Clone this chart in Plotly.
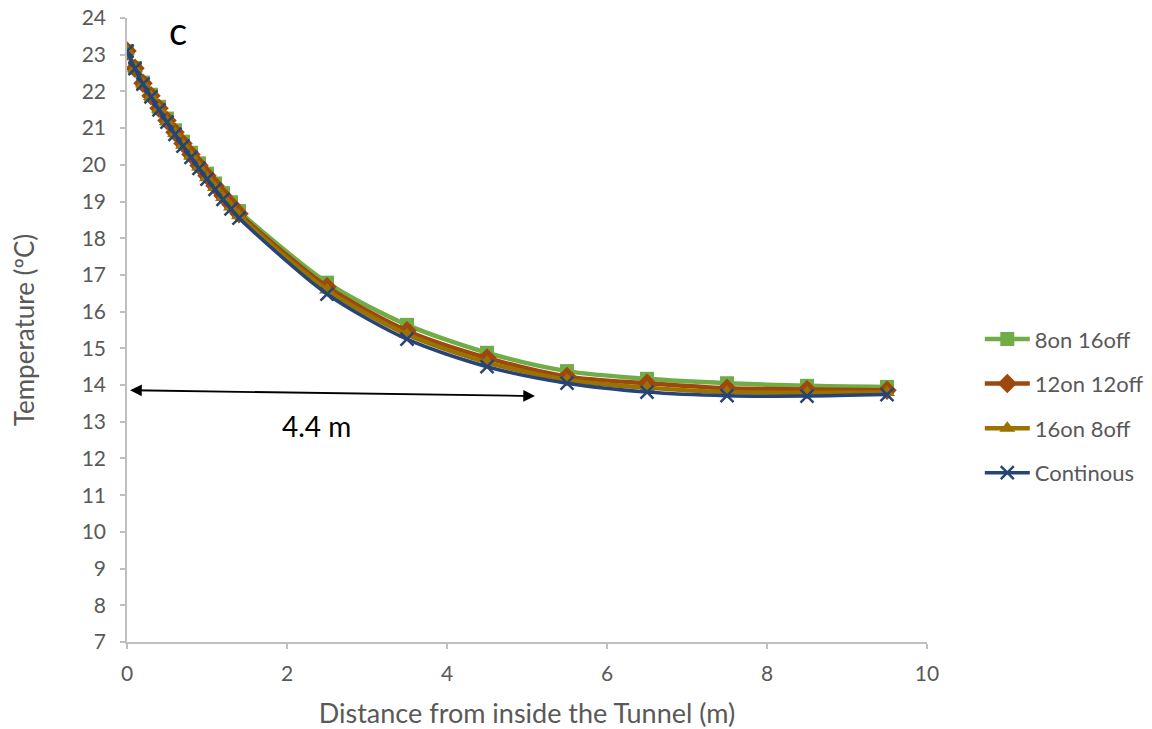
import plotly.graph_objects as go

# Distance from the inside of the tunnel (m)
distance = [0.0, 0.1, 0.2, 0.3, 0.4, 0.5, 0.6, 0.7, 0.8, 0.9, 1.0, 1.1, 1.2, 1.3, 1.4,
            2.5, 3.5, 4.5, 5.5, 6.5, 7.5, 8.5, 9.5]

# Temperature (ºC) for each heating schedule
temp_8on_16off = [23.10, 22.64, 22.24, 21.91, 21.58, 21.26, 20.94, 20.63, 20.33, 20.04,
                  19.76, 19.49, 19.23, 18.98, 18.74,
                  16.79, 15.64, 14.88, 14.38, 14.17, 14.05, 13.98, 13.95]
temp_12on_12off = [23.10, 22.63, 22.22, 21.88, 21.54, 21.21, 20.89, 20.58, 20.28, 19.98,
                   19.70, 19.43, 19.16, 18.91, 18.67,
                   16.68, 15.48, 14.74, 14.23, 14.05, 13.91, 13.88, 13.86]
temp_16on_8off = [23.10, 22.62, 22.21, 21.86, 21.52, 21.18, 20.86, 20.54, 20.24, 19.94,
                  19.65, 19.38, 19.11, 18.85, 18.61,
                  16.59, 15.38, 14.62, 14.14, 13.93, 13.81, 13.79, 13.80]
temp_continuous = [23.10, 22.62, 22.20, 21.85, 21.50, 21.16, 20.83, 20.51, 20.20, 19.90,
                   19.61, 19.33, 19.06, 18.80, 18.55,
                   16.48, 15.25, 14.50, 14.05, 13.81, 13.71, 13.70, 13.74]

series_names = ["8on 16off", "12on 12off", "16on 8off", "Continous"]

FONT = "Lato, 'Open Sans', sans-serif"
GREY_TEXT = "#595959"
AXIS_GREY = "#BFBFBF"

styles = [
    dict(color="#70AD47", symbol="square", size=14, width=4.5),
    dict(color="#9E480E", symbol="diamond", size=15, width=4.5),
    dict(color="#997300", symbol="triangle-up", size=14, width=4.5),
    dict(color="#264478", symbol="x-thin", size=13, width=3.5),
]
values = [temp_8on_16off, temp_12on_12off, temp_16on_8off, temp_continuous]

fig = go.Figure()
for i, (name, ys, st) in enumerate(zip(series_names, values, styles)):
    marker = dict(symbol=st["symbol"], size=st["size"], color=st["color"])
    if st["symbol"] == "x-thin":
        marker["line"] = dict(color=st["color"], width=2.5)
    fig.add_trace(go.Scatter(
        x=distance, y=ys, name=name, mode="lines+markers",
        line=dict(color=st["color"], width=st["width"], shape="spline", smoothing=0.8),
        marker=marker, legendgroup=f"g{i}",
    ))

# Double-headed arrow marking the 4.4 m zone
fig.add_annotation(x=5.1, y=13.70, ax=0.02, ay=13.86, xref="x", yref="y",
                   axref="x", ayref="y", text="", showarrow=True,
                   arrowhead=2, startarrowhead=2, arrowside="end+start",
                   arrowsize=1.3, startarrowsize=1.3, arrowwidth=1.8, arrowcolor="black")
fig.add_annotation(x=2.37, y=12.88, xref="x", yref="y", text="4.4 m", showarrow=False,
                   font=dict(family=FONT, size=28, color="black"))
fig.add_annotation(x=0.64, y=23.68, xref="x", yref="y", text="c", showarrow=False,
                   font=dict(family=FONT, size=38, color="black"))

axis_common = dict(
    showline=True, linecolor=AXIS_GREY, linewidth=1.5, showgrid=False, zeroline=False,
    ticks="outside", tickcolor=AXIS_GREY, ticklen=5, tickwidth=1.5,
    tickfont=dict(family=FONT, size=21, color=GREY_TEXT),
)
fig.update_xaxes(range=[0, 10], dtick=2, tick0=0, ticklabelstandoff=7,
                 title=dict(text="Distance from inside the Tunnel (m)", standoff=21,
                            font=dict(family=FONT, size=27, color=GREY_TEXT)),
                 **axis_common)
fig.update_yaxes(range=[7, 24], dtick=1, tick0=7, ticklabelstandoff=10,
                 title=dict(text="Temperature (ºC)", standoff=40,
                            font=dict(family=FONT, size=26, color=GREY_TEXT)),
                 **axis_common)

fig.update_layout(
    width=1152, height=729,
    margin=dict(l=127, r=225, t=18, b=87, autoexpand=False),
    paper_bgcolor="white", plot_bgcolor="white",
    font=dict(family=FONT, color=GREY_TEXT),
    legend=dict(x=1.066, y=0.378, xanchor="left", yanchor="middle",
                font=dict(family=FONT, size=22, color=GREY_TEXT),
                tracegroupgap=13, itemwidth=45, bgcolor="rgba(0,0,0,0)"),
)

fig.write_html("out.html")
